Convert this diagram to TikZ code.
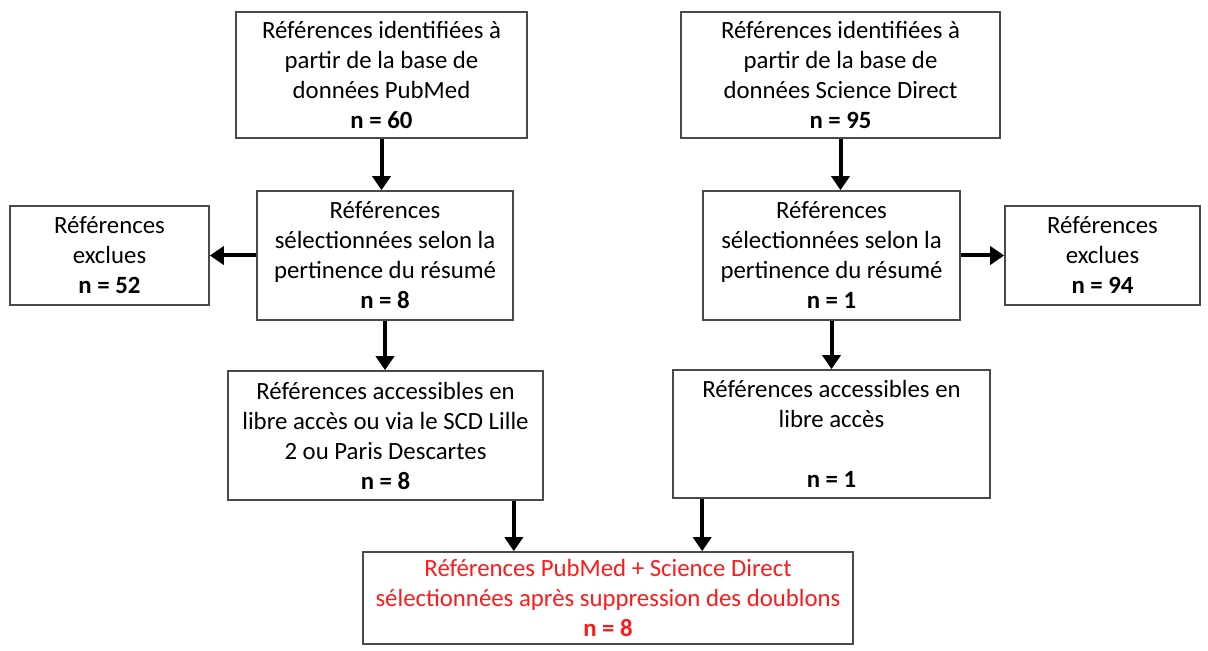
\documentclass[tikz,border=0pt]{standalone}
\usepackage{fontspec}
\setmainfont{Carlito}
\usepackage{tikz}
\usetikzlibrary{arrows.meta,positioning}
\definecolor{edgegray}{HTML}{4A4A4A}
\definecolor{finred}{HTML}{FF1A1A}
\tikzset{box/.style={draw=edgegray,line width=0.8pt,fill=white,align=center,font=\fontsize{12.4}{15}\selectfont,inner sep=2pt},arr/.style={-{Triangle[length=7pt,width=9pt]},draw=black,line width=2pt}}
\begin{document}
\begin{tikzpicture}[x=0.5pt,y=-0.5pt]
\useasboundingbox (0,0) rectangle (1208,651);
\node[box,minimum width=145.5pt,minimum height=63pt] (topL) at (381.5,75) {Références identifiées à\\partir de la base de\\données PubMed\\\textbf{n = 60}};
\node[box,minimum width=159.5pt,minimum height=63pt] (topR) at (840.5,75) {Références identifiées à\\partir de la base de\\données Science Direct\\\textbf{n = 95}};
\node[box,minimum width=128pt,minimum height=64.5pt] (selL) at (385,255.5) {Références\\sélectionnées selon la\\pertinence du résumé\\\textbf{n = 8}};
\node[box,minimum width=128.5pt,minimum height=64.5pt] (selR) at (831.5,255.5) {Références\\sélectionnées selon la\\pertinence du résumé\\\textbf{n = 1}};
\node[box,minimum width=99.5pt,minimum height=49.5pt] (exL) at (109.5,255.5) {Références\\exclues\\\textbf{n = 52}};
\node[box,minimum width=97.5pt,minimum height=49.5pt] (exR) at (1102.5,255.5) {Références\\exclues\\\textbf{n = 94}};
\node[box,minimum width=157.5pt,minimum height=64.5pt] (accL) at (385.5,435.5) {Références accessibles en\\libre accès ou via le SCD Lille\\2 ou Paris Descartes\\\textbf{n = 8}};
\node[box,minimum width=158.5pt,minimum height=64pt] (accR) at (831.5,434) {Références accessibles en\\libre accès\\\strut\\\textbf{n = 1}};
\node[box,minimum width=245pt,minimum height=46pt,text=finred] (fin) at (608,598) {Références PubMed + Science Direct\\sélectionnées après suppression des doublons\\\textbf{n = 8}};
\draw[arr] (topL.south) -- (topL.south |- selL.north);
\draw[arr] (topR.south) -- (topR.south |- selR.north);
\draw[arr] (selL.west) -- (exL.east);
\draw[arr] (selR.east) -- (exR.west);
\draw[arr] (selL.south) -- (selL.south |- accL.north);
\draw[arr] (selR.south) -- (selR.south |- accR.north);
\draw[arr] ([xshift=-15pt]accL.south east) -- ([xshift=-15pt]accL.south east |- fin.north);
\draw[arr] ([xshift=15pt]accR.south west) -- ([xshift=15pt]accR.south west |- fin.north);
\end{tikzpicture}
\end{document}
